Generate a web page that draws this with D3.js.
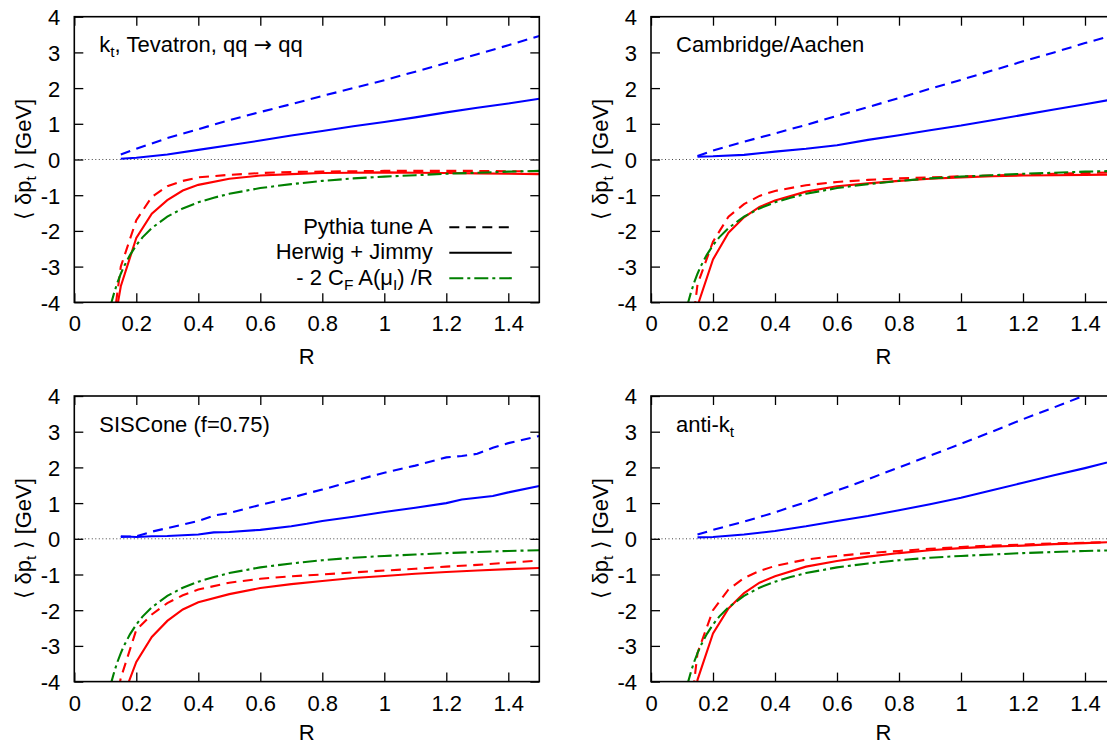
<!DOCTYPE html>
<html><head><meta charset="utf-8">
<script src="https://cdn.jsdelivr.net/npm/d3@7"></script>
<style>
body{margin:0;background:#fff}
svg{display:block}
text{font-family:"Liberation Sans",Arial,Helvetica,sans-serif;fill:#000}
</style>
</head><body>
<svg id="chart" width="1107" height="746"></svg>
<script>
// ---------------- data ----------------
const xTicks = [0, 0.2, 0.4, 0.6, 0.8, 1.0, 1.2, 1.4];
const xTickLabels = ["0", "0.2", "0.4", "0.6", "0.8", "1", "1.2", "1.4"];
const yTicks = [-4, -3, -2, -1, 0, 1, 2, 3, 4];
const yTickLabels = ["-4", "-3", "-2", "-1", "0", "1", "2", "3", "4"];

const rUE = [0.15, 0.2, 0.3, 0.4, 0.5, 0.6, 0.7, 0.8, 0.9, 1.0, 1.1, 1.2, 1.3, 1.4, 1.5];
const rUESis = [0.15, 0.2, 0.25, 0.3, 0.35, 0.4, 0.45, 0.5, 0.6, 0.7, 0.75, 0.8, 0.9, 1.0, 1.1, 1.2, 1.25, 1.3, 1.35, 1.4, 1.5];
const rHad = [0.1, 0.15, 0.2, 0.25, 0.3, 0.35, 0.4, 0.5, 0.6, 0.7, 0.8, 0.9, 1.0, 1.1, 1.2, 1.3, 1.4, 1.5];
const rAnalytic = [0.1, 0.11, 0.12, 0.13, 0.14, 0.15, 0.16, 0.18, 0.2, 0.22, 0.25, 0.3, 0.35, 0.4, 0.45, 0.5, 0.6, 0.7, 0.8, 0.9, 1.0, 1.1, 1.2, 1.3, 1.4, 1.5];

// - 2 C_F A(mu_I) / R  (same in every panel)
const analyticHad = [-4.8, -4.36, -4.0, -3.69, -3.43, -3.2, -3.0, -2.67, -2.4, -2.18, -1.92, -1.6, -1.37, -1.2, -1.07, -0.96, -0.8, -0.69, -0.6, -0.53, -0.48, -0.44, -0.4, -0.37, -0.34, -0.32];

// k_t
const ktPythiaUE  = [0.14, 0.3, 0.6, 0.85, 1.1, 1.33, 1.55, 1.78, 2.0, 2.22, 2.46, 2.7, 2.95, 3.2, 3.46];
const ktHerwigUE  = [0.02, 0.05, 0.14, 0.27, 0.4, 0.53, 0.67, 0.8, 0.93, 1.05, 1.18, 1.32, 1.45, 1.57, 1.7];
const ktPythiaHad = [-6.3, -3.0, -1.7, -1.05, -0.75, -0.6, -0.5, -0.43, -0.38, -0.35, -0.34, -0.33, -0.32, -0.32, -0.32, -0.32, -0.33, -0.33];
const ktHerwigHad = [-6.05, -3.55, -2.2, -1.52, -1.14, -0.87, -0.71, -0.54, -0.45, -0.41, -0.38, -0.37, -0.36, -0.37, -0.38, -0.39, -0.4, -0.41];

// Cambridge/Aachen
const caPythiaUE  = [0.1, 0.25, 0.5, 0.73, 0.97, 1.22, 1.47, 1.72, 1.98, 2.23, 2.49, 2.75, 3.0, 3.26, 3.5];
const caHerwigUE  = [0.08, 0.09, 0.13, 0.22, 0.3, 0.4, 0.55, 0.68, 0.82, 0.95, 1.1, 1.25, 1.4, 1.55, 1.7];
const caPythiaHad = [-7, -3.5, -2.3, -1.6, -1.25, -1.02, -0.88, -0.72, -0.63, -0.57, -0.53, -0.5, -0.47, -0.45, -0.42, -0.4, -0.38, -0.36];
const caHerwigHad = [-8, -4.1, -2.8, -2.05, -1.62, -1.33, -1.15, -0.9, -0.75, -0.67, -0.6, -0.54, -0.5, -0.47, -0.45, -0.44, -0.43, -0.42];

// SISCone (f=0.75)
const sisPythiaUE  = [0.05, 0.07, 0.2, 0.3, 0.4, 0.5, 0.65, 0.72, 0.95, 1.15, 1.27, 1.38, 1.62, 1.85, 2.05, 2.28, 2.32, 2.38, 2.55, 2.68, 2.88];
const sisHerwigUE  = [0.07, 0.05, 0.07, 0.08, 0.1, 0.12, 0.18, 0.19, 0.25, 0.35, 0.42, 0.5, 0.62, 0.75, 0.87, 1.0, 1.1, 1.15, 1.2, 1.3, 1.48];
const sisPythiaHad = [-6, -3.9, -2.55, -2.12, -1.8, -1.58, -1.42, -1.23, -1.12, -1.05, -1.0, -0.94, -0.89, -0.84, -0.78, -0.73, -0.67, -0.61];
const sisHerwigHad = [-7, -4.6, -3.45, -2.75, -2.3, -1.98, -1.78, -1.55, -1.38, -1.27, -1.18, -1.1, -1.04, -0.98, -0.93, -0.89, -0.85, -0.82];

// anti-k_t
const aktPythiaUE  = [0.12, 0.25, 0.48, 0.74, 1.03, 1.35, 1.67, 2.0, 2.33, 2.66, 3.0, 3.35, 3.68, 4.02, 4.35];
const aktHerwigUE  = [0.04, 0.05, 0.12, 0.22, 0.35, 0.5, 0.64, 0.8, 0.97, 1.15, 1.36, 1.57, 1.78, 1.98, 2.2];
const aktPythiaHad = [-7, -3.2, -2.0, -1.42, -1.1, -0.9, -0.76, -0.58, -0.48, -0.4, -0.34, -0.28, -0.23, -0.19, -0.16, -0.13, -0.11, -0.09];
const aktHerwigHad = [-8, -3.95, -2.65, -1.95, -1.52, -1.23, -1.05, -0.78, -0.62, -0.5, -0.4, -0.32, -0.26, -0.22, -0.19, -0.15, -0.12, -0.09];

// ---------------- drawing ----------------
const svg = d3.select("#chart");
const PW = 465, PH = 285.6;
const FONT = 22, SUB = 15.5;
const BLUE = "#0000ff", RED = "#ff0000", GREEN = "#008000";
const DASH = "10,6.5", DASHDOT = "14,4,3,4";

const panels = [
  {id: "kt",  x0: 74.3, y0: 16.7, title: [["k", ""], ["t", "sub"], [", Tevatron, qq ", ""], ["→", "arrow"], [" qq", ""]],
   ue: rUE, pUE: ktPythiaUE, hUE: ktHerwigUE, pHad: ktPythiaHad, hHad: ktHerwigHad, legend: true},
  {id: "ca",  x0: 651,  y0: 16.7, title: [["Cambridge/Aachen", ""]],
   ue: rUE, pUE: caPythiaUE, hUE: caHerwigUE, pHad: caPythiaHad, hHad: caHerwigHad},
  {id: "sis", x0: 74.3, y0: 396, title: [["SISCone (f=0.75)", ""]],
   ue: rUESis, pUE: sisPythiaUE, hUE: sisHerwigUE, pHad: sisPythiaHad, hHad: sisHerwigHad},
  {id: "akt", x0: 651,  y0: 396, title: [["anti-k", ""], ["t", "sub"]],
   ue: rUE, pUE: aktPythiaUE, hUE: aktHerwigUE, pHad: aktPythiaHad, hHad: aktHerwigHad}
];

function addRich(sel, parts) {
  parts.forEach(([t, kind]) => {
    const ts = sel.append("tspan").text(t);
    if (kind === "sub") ts.attr("baseline-shift", "-30%").attr("font-size", SUB);
    if (kind === "arrow") ts.attr("font-family", "DejaVu Sans, sans-serif").attr("font-size", 22);
  });
}

panels.forEach((p, pi) => {
  const g = svg.append("g").attr("transform", `translate(${p.x0},${p.y0})`);
  const x = d3.scaleLinear().domain([0, 1.5]).range([0, PW]);
  const y = d3.scaleLinear().domain([-4, 4]).range([PH, 0]);

  g.append("clipPath").attr("id", "clip-" + p.id)
    .append("rect").attr("width", PW).attr("height", PH);

  // zero line
  g.append("line").attr("x1", x(0)).attr("x2", x(1.5)).attr("y1", y(0)).attr("y2", y(0))
    .attr("stroke", "#444").attr("stroke-width", 1).attr("stroke-dasharray", "1,2.5");

  const line = d3.line().x(d => x(d[0])).y(d => y(d[1]));
  const plot = g.append("g").attr("clip-path", `url(#clip-${p.id})`);
  const series = [
    {r: rHad, v: p.pHad, c: RED, dash: DASH},
    {r: p.ue, v: p.pUE, c: BLUE, dash: DASH},
    {r: rHad, v: p.hHad, c: RED, dash: null},
    {r: p.ue, v: p.hUE, c: BLUE, dash: null},
    {r: rAnalytic, v: analyticHad, c: GREEN, dash: DASHDOT}
  ];
  series.forEach(s => {
    plot.append("path").datum(s.r.map((r, i) => [r, s.v[i]]))
      .attr("d", line).attr("fill", "none").attr("stroke", s.c)
      .attr("stroke-width", 2.1).attr("stroke-dasharray", s.dash);
  });

  // axes
  const fmtX = (d) => xTickLabels[xTicks.indexOf(d)];
  const fmtY = (d) => yTickLabels[yTicks.indexOf(d)];
  const axB = g.append("g").attr("transform", `translate(0,${PH})`)
    .call(d3.axisBottom(x).tickValues(xTicks).tickFormat(fmtX).tickSize(-9).tickPadding(13.5));
  const axT = g.append("g").call(d3.axisTop(x).tickValues(xTicks).tickFormat("").tickSize(-9));
  const axL = g.append("g").call(d3.axisLeft(y).tickValues(yTicks).tickFormat(fmtY).tickSize(-9).tickPadding(14));
  const axR = g.append("g").attr("transform", `translate(${PW},0)`)
    .call(d3.axisRight(y).tickValues(yTicks).tickFormat("").tickSize(-9));
  [axB, axT, axL, axR].forEach(a => {
    a.select(".domain").remove();
    a.selectAll(".tick line").attr("stroke", "#000").attr("stroke-width", 1.3);
    a.selectAll(".tick text").attr("font-size", FONT).attr("font-family", "Liberation Sans, Arial, sans-serif").attr("fill", "#000");
  });
  axL.selectAll(".tick text").attr("dy", "0.36em");

  // frame
  g.append("rect").attr("width", PW).attr("height", PH).attr("fill", "none")
    .attr("stroke", "#000").attr("stroke-width", 1.6);

  // axis titles
  g.append("text").attr("x", PW / 2).attr("y", PH + (pi < 2 ? 62 : 58)).attr("text-anchor", "middle")
    .attr("font-size", FONT).text("R");
  const yl = g.append("text").attr("transform", `translate(-43,${PH / 2}) rotate(-90)`)
    .attr("text-anchor", "middle").attr("font-size", FONT);
  addRich(yl, [["⟨ δp", ""], ["t", "sub"], [" ⟩ [GeV]", ""]]);

  // panel title
  const tt = g.append("text").attr("x", 25).attr("y", 35.5).attr("font-size", FONT);
  addRich(tt, p.title);

  // legend
  if (p.legend) {
    const rows = [
      {parts: [["Pythia tune A", ""]], c: "#000", dash: DASH, yy: 210.5},
      {parts: [["Herwig + Jimmy", ""]], c: "#000", dash: null, yy: 236},
      {parts: [["- 2 C", ""], ["F", "sub"], [" A(μ", ""], ["I", "sub"], [") /R", ""]], c: GREEN, dash: DASHDOT, yy: 261.5}
    ];
    rows.forEach(rw => {
      const t = g.append("text").attr("x", 358.5).attr("y", rw.yy + 6.5)
        .attr("text-anchor", "end").attr("font-size", FONT);
      addRich(t, rw.parts);
      g.append("line").attr("x1", 375).attr("x2", 437.5).attr("y1", rw.yy).attr("y2", rw.yy)
        .attr("stroke", rw.c).attr("stroke-width", 2.1).attr("stroke-dasharray", rw.dash);
    });
  }
});
</script>
</body></html>
